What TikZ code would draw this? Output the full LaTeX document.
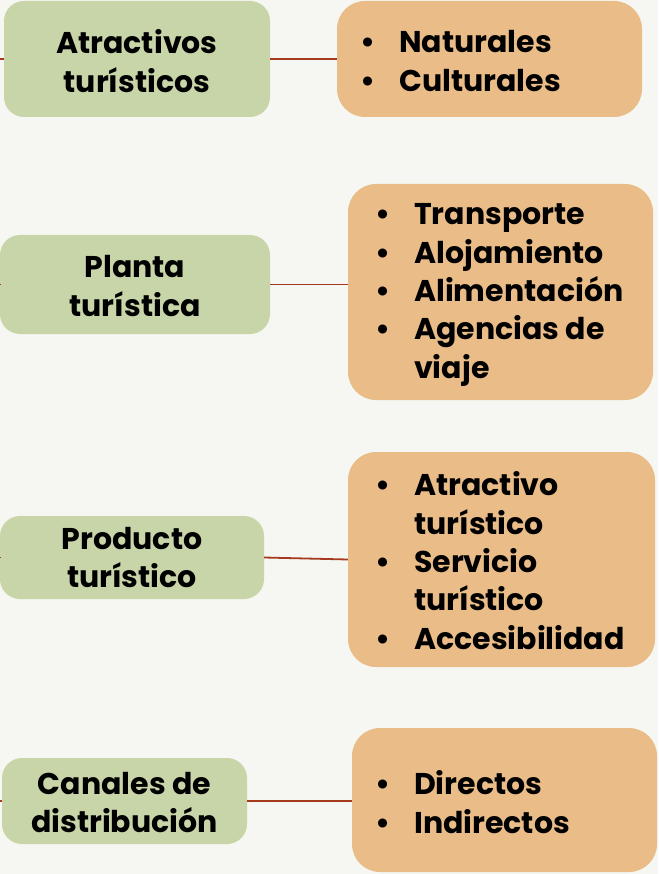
\documentclass[tikz,border=0pt]{standalone}
\usepackage{fontspec}
\setmainfont{Poppins}[BoldFont={* Bold}]
\usetikzlibrary{positioning}
\definecolor{bgc}{HTML}{F6F7F2}
\definecolor{greenbox}{HTML}{C8D5A8}
\definecolor{orangebox}{HTML}{E9BC88}
\definecolor{linkc}{HTML}{A63A1E}
\newcommand{\bitem}[1]{\makebox[31pt][l]{\makebox[0pt][c]{\textbullet}}#1}
\newcommand{\bcont}[1]{\hspace*{31pt}#1}
\begin{document}
\begin{tikzpicture}[x=1pt,y=-1pt,
  txt/.style={font=\fontsize{30}{38.3}\selectfont\bfseries,inner sep=0pt},
  gbox/.style={fill=greenbox,rounded corners=20pt,inner sep=0pt},
  obox/.style={fill=orangebox,rounded corners=28pt,inner sep=0pt},
  gtext/.style={txt,align=center},
  otext/.style={txt,align=left,anchor=west},
  link/.style={draw=linkc,line width=1.8pt}]
\fill[bgc] (0,0) rectangle (658,874);
\useasboundingbox (0,0) rectangle (658,874);
% left stubs
\coordinate (s1) at (0,59);
\coordinate (s2) at (0,284.5);
\coordinate (s3) at (0,557.5);
\coordinate (s4) at (0,801);
% green boxes
\node[gbox,minimum width=266pt,minimum height=116pt] (g1) at (137,59) {};
\node[gbox,minimum width=270pt,minimum height=99pt] (g2) at (135,284.5) {};
\node[gbox,minimum width=264pt,minimum height=83pt] (g3) at (132,557.5) {};
\node[gbox,minimum width=245pt,minimum height=86pt] (g4) at (124.5,801) {};
\node[gtext] (g1t) at (137,61) {Atractivos\\tur\'isticos};
\node[gtext] (g2t) at (135,286) {Planta\\tur\'istica};
\node[gtext] (g3t) at (132,557.5) {Producto\\tur\'istico};
\node[gtext] (g4t) at (124.5,802.5) {Canales de\\distribuci\'on};
% orange boxes
\node[obox,minimum width=305pt,minimum height=116pt] (o1) at (489.5,59) {};
\node[obox,minimum width=305pt,minimum height=216pt] (o2) at (500.5,292) {};
\node[obox,minimum width=307pt,minimum height=215pt] (o3) at (501.5,559.5) {};
\node[obox,minimum width=305pt,minimum height=144pt] (o4) at (504.5,800) {};
\node[otext] (o1t) at (368,61) {\bitem{Naturales}\\\bitem{Culturales}};
\node[otext] (o2t) at (383,295) {\bitem{Transporte}\\\bitem{Alojamiento}\\\bitem{Alimentaci\'on}\\\bitem{Agencias de}\\\bcont{viaje}};
\node[otext] (o3t) at (383,560.5) {\bitem{Atractivo}\\\bcont{tur\'istico}\\\bitem{Servicio}\\\bcont{tur\'istico}\\\bitem{Accesibilidad}};
\node[otext] (o4t) at (383,802) {\bitem{Directos}\\\bitem{Indirectos}};
% connectors
\draw[link] (g1.east) -- (o1.west);
\draw[link] (g2.east) -- (g2.east -| o2.west);
\draw[link] (g3.east) -- (o3.west);
\draw[link] (g4.east) -- (g4.east -| o4.west);
\draw[link] (s1) -- (g1.west);
\draw[link] (s2) -- (g2.west);
\draw[link] (s3) -- (g3.west);
\draw[link] (s4) -- (g4.west);
\end{tikzpicture}
\end{document}
